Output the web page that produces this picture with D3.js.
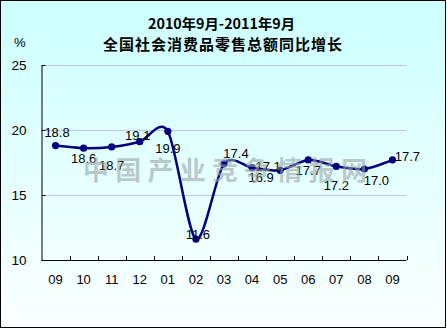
<!DOCTYPE html>
<html>
<head>
<meta charset="utf-8">
<script src="https://cdn.jsdelivr.net/npm/d3@7"></script>
<style>
  html, body { margin: 0; padding: 0; background: #fff; }
  svg { display: block; }
</style>
</head>
<body>
<svg id="chart" width="447" height="329"></svg>
<script>
// ---- data ----
const titleLine1 = "2010年9月-2011年9月";
const titleLine2 = "全国社会消费品零售总额同比增长";
const unitLabel = "%";
const watermarkText = "中国产业竞争情报网";
const categories = ["09","10","11","12","01","02","03","04","05","06","07","08","09"];
const values = [18.8, 18.6, 18.7, 19.1, 19.9, 11.6, 17.4, 17.1, 16.9, 17.7, 17.2, 17.0, 17.7];
const valueLabels = ["18.8","18.6","18.7","19.1","19.9","11.6","17.4","17.1","16.9","17.7","17.2","17.0","17.7"];
const yTicks = [10, 15, 20, 25];
// label placement offsets relative to each point [dx, dy]
const labelOffsets = [[1.5,-8.6],[0,15],[0,23],[-2,-2],[0,22],[2,0],[12,-6],[16,3],[-19,12],[0,15],[0,24],[12,16],[15,1]];

// ---- chart ----
const W = 447, H = 329;
const svg = d3.select("#chart");
const font = "'Liberation Sans', Arial, sans-serif";

const defs = svg.append("defs");
const grad = defs.append("linearGradient").attr("id", "bg").attr("x1", 0).attr("y1", 0).attr("x2", 0).attr("y2", 1);
grad.append("stop").attr("offset", "0%").attr("stop-color", "#ccffff");
grad.append("stop").attr("offset", "100%").attr("stop-color", "#fbffff");

svg.append("rect").attr("x", 0.5).attr("y", 0.5).attr("width", W - 2).attr("height", H - 2)
  .attr("fill", "url(#bg)").attr("stroke", "#000").attr("stroke-width", 1);

const plot = { left: 41.5, right: 406.5, top: 65, bottom: 260 };

const x = d3.scaleBand().domain(d3.range(categories.length)).range([plot.left, plot.right]).padding(0);
const y = d3.scaleLinear().domain([10, 25]).range([plot.bottom, plot.top]);
const cx = i => x(i) + x.bandwidth() / 2;

// gridlines
svg.append("g").selectAll("line").data(yTicks.filter(t => t > 10)).join("line")
  .attr("x1", plot.left).attr("x2", plot.right)
  .attr("y1", d => Math.round(y(d)) + 0.5).attr("y2", d => Math.round(y(d)) + 0.5)
  .attr("stroke", "#c4c4f4").attr("stroke-width", 1);

// y axis
const yAxis = svg.append("g").attr("transform", `translate(${plot.left},0)`)
  .call(d3.axisLeft(y).tickValues(yTicks).tickSizeInner(-4).tickSizeOuter(0).tickPadding(15));
yAxis.select(".domain").attr("stroke", "#000");
yAxis.selectAll(".tick line").attr("stroke", "#000");
yAxis.selectAll("text").attr("font-family", font).attr("font-size", 13.5).attr("fill", "#000");

// x axis (labels at band centres, tick marks at band edges)
const xAxis = svg.append("g").attr("transform", `translate(0,${plot.bottom})`)
  .call(d3.axisBottom(x).tickFormat(i => categories[i]).tickSize(0).tickPadding(15));
xAxis.select(".domain").attr("stroke", "#000").attr("d", `M${plot.left},0.5H${plot.right}`);
xAxis.selectAll("text").attr("font-family", font).attr("font-size", 13).attr("fill", "#000");
xAxis.append("g").selectAll("line").data(d3.range(1, categories.length + 1)).join("line")
  .attr("x1", i => Math.round(x(i - 1) + x.bandwidth()) + 0.5)
  .attr("x2", i => Math.round(x(i - 1) + x.bandwidth()) + 0.5)
  .attr("y1", 0).attr("y2", -4).attr("stroke", "#000");

// line
const line = d3.line().x((d, i) => cx(i)).y(d => y(d)).curve(d3.curveCardinal.tension(0.15));
svg.append("path").datum(values).attr("d", line)
  .attr("fill", "none").attr("stroke", "#000080").attr("stroke-width", 2.5);

// markers
svg.append("g").selectAll("circle").data(values).join("circle")
  .attr("cx", (d, i) => cx(i)).attr("cy", d => y(d)).attr("r", 3.6)
  .attr("fill", "#000080");

// data labels
svg.append("g").selectAll("text").data(values).join("text")
  .attr("x", (d, i) => cx(i) + labelOffsets[i][0])
  .attr("y", (d, i) => y(d) + labelOffsets[i][1])
  .attr("text-anchor", "middle")
  .attr("font-family", font).attr("font-size", 13).attr("fill", "#000")
  .text((d, i) => valueLabels[i]);

// unit
svg.append("text").attr("x", 14).attr("y", 47).attr("font-family", font).attr("font-size", 13)
  .attr("fill", "#000").text(unitLabel);

// title
const cjk = "'Noto Sans CJK SC', sans-serif";
svg.append("text").attr("x", 148).attr("y", 29).attr("textLength", 147).attr("lengthAdjust", "spacingAndGlyphs")
  .attr("font-family", cjk).attr("font-weight", "bold").attr("font-size", 14).attr("fill", "#000").text(titleLine1);
svg.append("text").attr("x", 103).attr("y", 50).attr("textLength", 239).attr("lengthAdjust", "spacing")
  .attr("font-family", cjk).attr("font-weight", "bold").attr("font-size", 15).attr("fill", "#000").text(titleLine2);

// watermark
svg.append("text").attr("x", 83).attr("y", 180).attr("textLength", 284).attr("lengthAdjust", "spacing")
  .attr("font-family", cjk).attr("font-weight", "bold").attr("font-size", 26)
  .attr("fill", "#9aa6a6").attr("fill-opacity", 0.6).text(watermarkText);
</script>
</body>
</html>
